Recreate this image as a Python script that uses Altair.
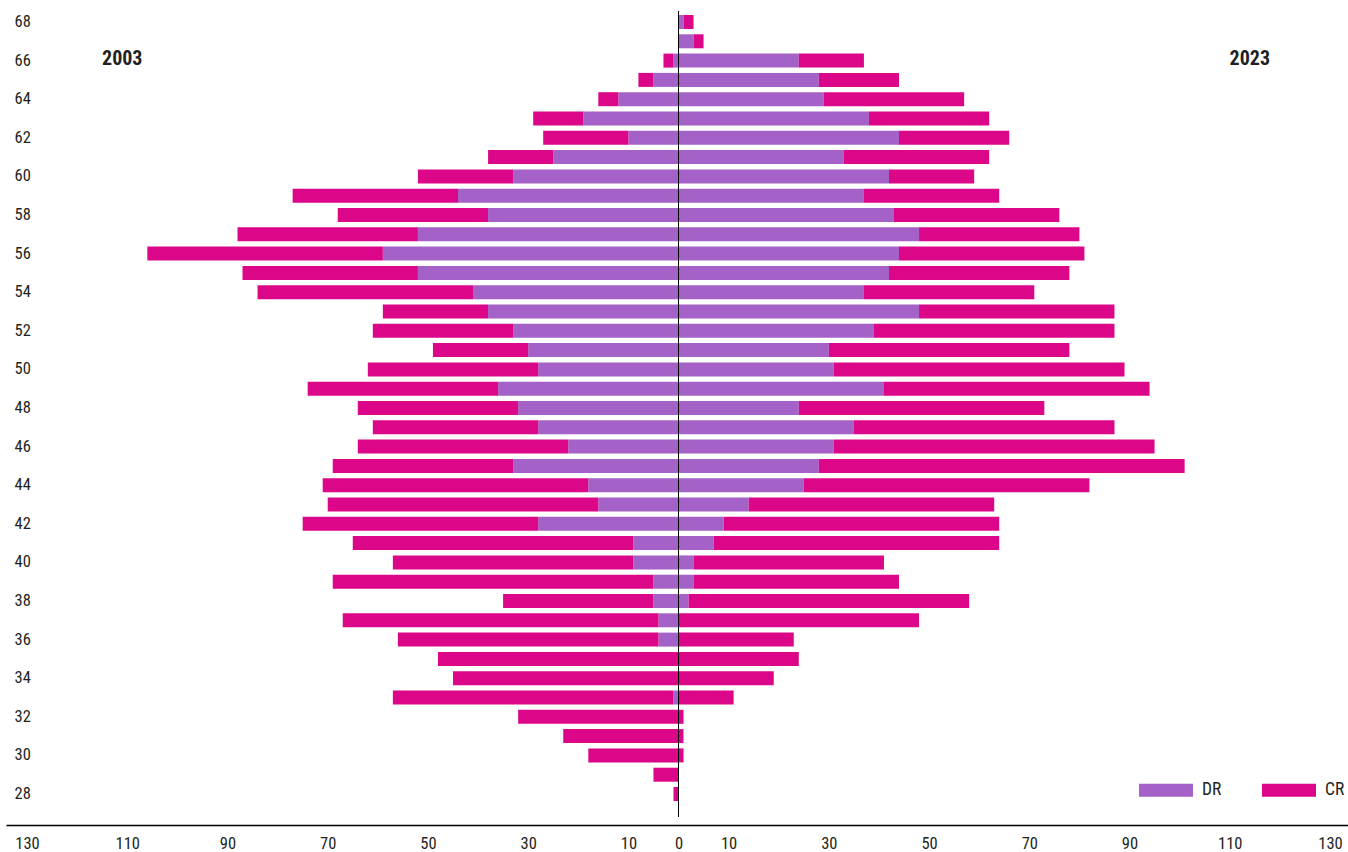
import altair as alt
import pandas as pd

# Ages shown on the vertical axis, youngest at the bottom
ages = list(range(28, 69))

# 2003 (drawn to the left of zero), values per age 28..68
dr_2003 = [0, 0, 0, 0, 0, 1, 0, 0, 4, 4, 5, 5, 9, 9, 28, 16, 18, 33, 22, 28, 32,
           36, 28, 30, 33, 38, 41, 52, 59, 52, 38, 44, 33, 25, 10, 19, 12, 5, 1, 0, 0]
cr_2003 = [1, 5, 18, 23, 32, 56, 45, 48, 52, 63, 30, 64, 48, 56, 47, 54, 53, 36, 42, 33, 32,
           38, 34, 19, 28, 21, 43, 35, 47, 36, 30, 33, 19, 13, 17, 10, 4, 3, 2, 0, 0]

# 2023 (drawn to the right of zero), values per age 28..68
dr_2023 = [0, 0, 0, 0, 0, 0, 0, 0, 0, 0, 2, 3, 3, 7, 9, 14, 25, 28, 31, 35, 24,
           41, 31, 30, 39, 48, 37, 42, 44, 48, 43, 37, 42, 33, 44, 38, 29, 28, 24, 3, 1]
cr_2023 = [0, 0, 1, 1, 1, 11, 19, 24, 23, 48, 56, 41, 38, 57, 55, 49, 57, 73, 64, 52, 49,
           53, 58, 48, 48, 39, 34, 36, 37, 32, 33, 27, 17, 29, 22, 24, 28, 16, 13, 2, 2]

series = ["DR", "CR"]
year_labels = ["2003", "2023"]
year_label_x = [-111, 114]
year_label_age = [66, 66]

tick_values = [-130, -110, -90, -70, -50, -30, -10, 0, 10, 30, 50, 70, 90, 110, 130]
age_ticks = list(range(68, 27, -2))

FONT = "Roboto Condensed, Liberation Sans Narrow, DejaVu Sans Condensed, Roboto, sans-serif"
TEXT_COLOR = "#231F20"
DR_COLOR = "#A461C8"
CR_COLOR = "#DC0688"
LABEL_SIZE = 16.5

# Stack DR next to the zero line and CR outside it, on both sides
rows = []
for i, age in enumerate(ages):
    for sign, dr, cr in ((-1, dr_2003[i], cr_2003[i]), (1, dr_2023[i], cr_2023[i])):
        if dr:
            rows.append({"age": age, "type": "DR", "x0": 0, "x1": sign * dr})
        if cr:
            rows.append({"age": age, "type": "CR", "x0": sign * dr, "x1": sign * (dr + cr)})
bars_df = pd.DataFrame(rows)

years_df = pd.DataFrame({"label": year_labels, "x": year_label_x, "age": year_label_age})
zero_df = pd.DataFrame({"x": [0]})

x_scale = alt.Scale(domain=[-134.2, 133.6], nice=False, zero=False)
y_scale = alt.Scale(domain=list(reversed(ages)), paddingInner=0.275, paddingOuter=0.777)

x_axis = alt.Axis(
    values=tick_values,
    labelExpr="format(abs(datum.value), 'd')",
    ticks=False,
    tickSize=0,
    grid=False,
    domain=True,
    domainColor="#000000",
    domainWidth=1.5,
    offset=9,
    labelPadding=10,
    labelFlush=False,
    labelOverlap=False,
    labelFont=FONT,
    labelFontSize=LABEL_SIZE,
    labelColor=TEXT_COLOR,
)
y_axis = alt.Axis(
    values=age_ticks,
    ticks=False,
    tickSize=0,
    domain=False,
    grid=False,
    labelAlign="left",
    labelPadding=-8,
    labelFont=FONT,
    labelFontSize=LABEL_SIZE,
    labelColor=TEXT_COLOR,
)

bars = alt.Chart(bars_df).mark_bar().encode(
    x=alt.X("x0:Q", scale=x_scale, title=None, axis=x_axis),
    x2="x1:Q",
    y=alt.Y("age:O", scale=y_scale, title=None, axis=y_axis),
    color=alt.Color(
        "type:N",
        scale=alt.Scale(domain=series, range=[DR_COLOR, CR_COLOR]),
        legend=alt.Legend(
            title=None,
            orient="none",
            legendX=1133,
            legendY=763,
            direction="horizontal",
            symbolType="M-1,-0.24L1,-0.24L1,0.24L-1,0.24Z",
            symbolSize=2916,
            symbolStrokeWidth=0,
            symbolOpacity=1,
            labelFont=FONT,
            labelFontSize=17.5,
            labelColor=TEXT_COLOR,
            labelOffset=9,
            columnPadding=40,
            padding=0,
        ),
    ),
)

zero_line = alt.Chart(zero_df).mark_rule(color="#000000", strokeWidth=1).encode(
    x=alt.X("x:Q", scale=x_scale, title=None, axis=x_axis),
    y=alt.value(11),
    y2=alt.value(817),
)

years = alt.Chart(years_df).mark_text(
    font=FONT, fontSize=20, fontWeight="bold", color=TEXT_COLOR, dy=-2
).encode(
    x=alt.X("x:Q", scale=x_scale, title=None, axis=x_axis),
    y=alt.Y("age:O", scale=y_scale, title=None, axis=y_axis),
    text="label:N",
)

chart = (
    alt.layer(bars, zero_line, years)
    .properties(
        width=1342,
        height=816,
        padding={"left": 6, "top": 0, "right": 0, "bottom": 36},
        autosize=alt.AutoSizeParams(type="none"),
        background="white",
    )
    .configure_view(stroke=None)
)

chart.save("out.html", embed_options={"renderer": "svg", "actions": False})
